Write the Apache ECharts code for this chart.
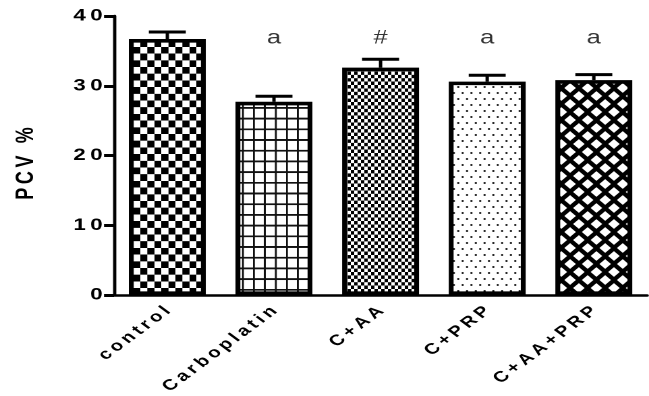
<!DOCTYPE html>
<html>
<head>
<meta charset="utf-8">
<script src="https://cdn.jsdelivr.net/npm/echarts@6/dist/echarts.min.js"></script>
<style>
  html, body { margin: 0; padding: 0; background: #fff; overflow: hidden; }
  /* the figure is laid out narrow and widened horizontally, like the exported graph */
  #chart { width: 481px; height: 396px; transform: scaleX(1.3493); transform-origin: 0 0; }
</style>
</head>
<body>
<div id="chart"></div>
<script>
// Packed cell volume per treatment group (mean and SEM)
const categories = ['control', 'Carboplatin', 'C+AA', 'C+PRP', 'C+AA+PRP'];
const pcvMean = [36.7, 27.7, 32.6, 30.6, 30.8];
const pcvSem = [1.0, 0.8, 1.2, 0.9, 0.8];
const significance = ['', 'a', '#', 'a', 'a'];
const markLevel = 36.8;
const yMin = 0, yMax = 40, yStep = 10;
const yTitle = 'PCV %';

const FONT = '"Liberation Sans", Arial, sans-serif';
const spaced = s => s.split('').join('\u2009');

// Fill patterns drawn on small hi-res tiles
function tile(w, h, draw) {
  const k = 4;
  const c = document.createElement('canvas');
  c.width = Math.round(w * k);
  c.height = Math.round(h * k);
  const ctx = c.getContext('2d');
  ctx.scale(c.width / w, c.height / h);
  draw(ctx, w, h);
  return { image: c, repeat: 'repeat', scaleX: w / c.width, scaleY: h / c.height };
}
function checker(cw, ch) {
  return tile(cw * 2, ch * 2, (ctx) => {
    ctx.fillStyle = '#fff'; ctx.fillRect(0, 0, cw * 2, ch * 2);
    ctx.fillStyle = '#000';
    ctx.fillRect(0, 0, cw, ch);
    ctx.fillRect(cw, ch, cw, ch);
  });
}
function gridFill(w, h) {
  return tile(w, h, (ctx) => {
    ctx.fillStyle = '#fff'; ctx.fillRect(0, 0, w, h);
    ctx.fillStyle = '#111';
    ctx.fillRect(0, 0, w, 1.8);
    ctx.fillRect(0, 0, 1.4, h);
  });
}
function dots(w, h) {
  // staggered dot rows
  return tile(w, h, (ctx) => {
    ctx.fillStyle = '#fff'; ctx.fillRect(0, 0, w, h);
    ctx.fillStyle = '#000';
    [[w / 4, h / 4], [w * 3 / 4, h * 3 / 4]].forEach(([x, y]) => {
      ctx.beginPath(); ctx.arc(x, y, 0.85, 0, Math.PI * 2); ctx.fill();
    });
  });
}
function lattice(w, h, hw, hh) {
  return tile(w, h, (ctx) => {
    ctx.fillStyle = '#000'; ctx.fillRect(0, 0, w, h);
    ctx.fillStyle = '#fff';
    const centers = [[w / 2, h / 2], [0, 0], [w, 0], [0, h], [w, h]];
    centers.forEach(([cx, cy]) => {
      ctx.beginPath();
      ctx.moveTo(cx - hw, cy); ctx.lineTo(cx, cy - hh);
      ctx.lineTo(cx + hw, cy); ctx.lineTo(cx, cy + hh);
      ctx.closePath(); ctx.fill();
    });
  });
}

const fills = [
  checker(5.2, 6.7),
  gridFill(8.15, 10.7),
  checker(2.5, 3.4),
  dots(6.5, 12),
  lattice(13, 16, 4.3, 4.9)
];

const chart = echarts.init(document.getElementById('chart'), null, { renderer: 'canvas', devicePixelRatio: 2 });

chart.setOption({
  animation: false,
  backgroundColor: '#fff',
  textStyle: { fontFamily: FONT },
  grid: { left: 84.5, right: 1.4, top: 16, bottom: 101, containLabel: false, outerBoundsMode: 'none' },
  xAxis: {
    type: 'category',
    data: categories,
    axisLine: { lineStyle: { color: '#000', width: 2.5 } },
    axisTick: { alignWithLabel: true, length: 8, lineStyle: { color: '#000', width: 2.2 } },
    axisLabel: {
      interval: 0, rotate: 45, margin: 14,
      color: '#000', fontFamily: FONT, fontWeight: 'bold', fontSize: 15,
      formatter: v => spaced(v)
    }
  },
  yAxis: {
    type: 'value',
    min: yMin, max: yMax, interval: yStep,
    name: spaced(yTitle),
    nameLocation: 'middle',
    nameGap: 56,
    nameRotate: 90,
    nameTextStyle: { color: '#000', fontFamily: FONT, fontWeight: 'bold', fontSize: 18, padding: [0, 16, 0, 0] },
    axisLine: { show: true, lineStyle: { color: '#000', width: 2.4 } },
    axisTick: { show: true, length: 7.4, lineStyle: { color: '#000', width: 3 } },
    splitLine: { show: false },
    axisLabel: {
      margin: 8.5, color: '#000', fontFamily: FONT, fontWeight: 'bold', fontSize: 16.5,
      formatter: v => spaced(String(v))
    }
  },
  series: [
    {
      // SEM whiskers, drawn beneath the bars so the stem starts at the bar top
      type: 'custom',
      z: 1,
      data: pcvMean.map((m, i) => [i, m, pcvSem[i]]),
      renderItem: (params, api) => {
        const i = api.value(0);
        const base = api.coord([i, api.value(1)]);
        const top = api.coord([i, api.value(1) + api.value(2)]);
        const half = 13.7;
        return {
          type: 'group',
          children: [
            { type: 'line', shape: { x1: base[0], y1: base[1], x2: top[0], y2: top[1] },
              style: { stroke: '#000', lineWidth: 2.5 } },
            { type: 'line', shape: { x1: top[0] - half, y1: top[1], x2: top[0] + half, y2: top[1] },
              style: { stroke: '#000', lineWidth: 3 } }
          ]
        };
      }
    },
    {
      type: 'bar',
      z: 2,
      barWidth: 57,
      data: pcvMean.map((m, i) => ({
        value: m,
        itemStyle: { color: fills[i], borderColor: '#000', borderWidth: 3.6 }
      }))
    },
    {
      // significance marks above the groups
      type: 'scatter',
      z: 3,
      symbolSize: 0,
      data: significance.map((s, i) => ({ value: [i, markLevel], mark: s })).filter(d => d.mark),
      label: {
        show: true, position: 'inside',
        color: '#000', fontFamily: FONT, fontSize: 19,
        formatter: p => p.data.mark
      }
    }
  ]
});
</script>
</body>
</html>
